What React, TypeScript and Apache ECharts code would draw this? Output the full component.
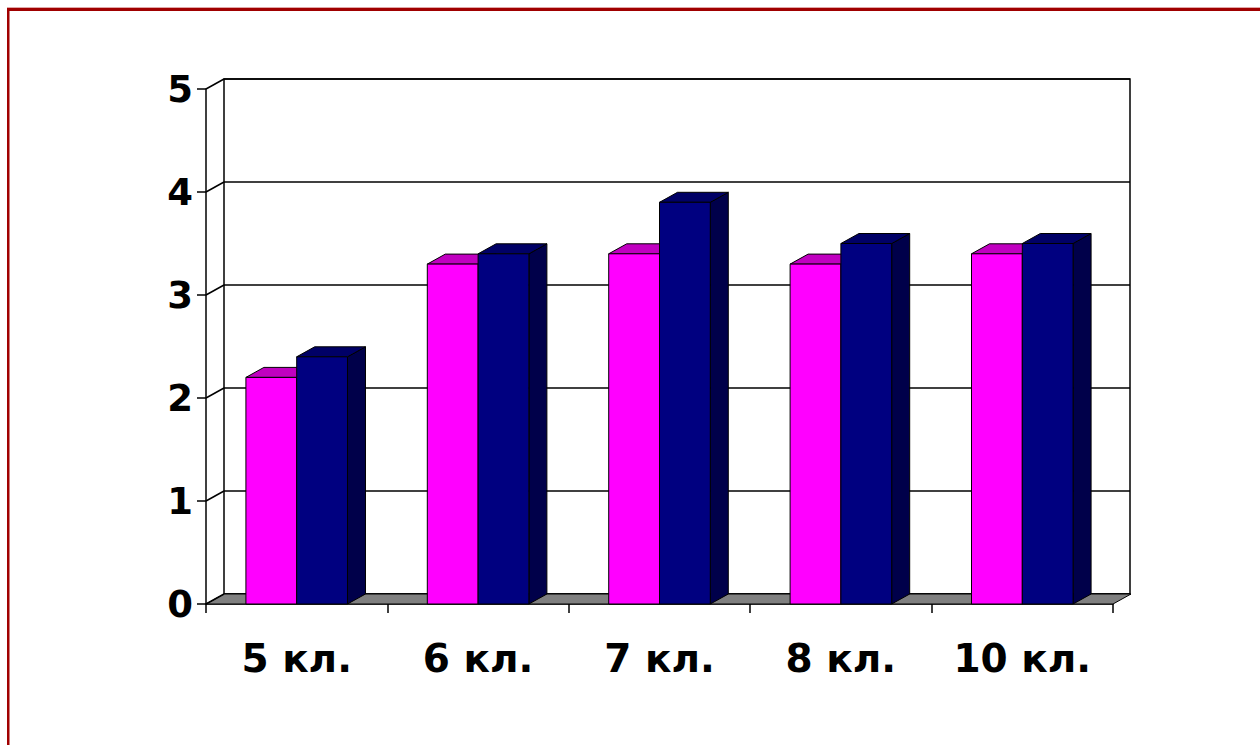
import React, { useEffect, useRef } from "react";
import * as echarts from "echarts";

const categories = ["5 кл.", "6 кл.", "7 кл.", "8 кл.", "10 кл."];
const pinkValues = [2.2, 3.3, 3.4, 3.3, 3.4];
const blueValues = [2.4, 3.4, 3.9, 3.5, 3.5];
const yTicks = [0, 1, 2, 3, 4, 5];

const DX = 18;
const DY = -10;
const FONT = "'DejaVu Sans', Verdana, sans-serif";

function barRenderer(side: "left" | "right", front: string, top: string, flank: string) {
  return (params: any, api: any) => {
    const i = api.value(0);
    const v = api.value(1);
    const c = api.coord([i, v]);
    const b = api.coord([i, 0]);
    const band = api.size([1, 0])[0];
    const bw = band * 0.28;
    const x0 = side === "left" ? c[0] - bw : c[0];
    const x1 = x0 + bw;
    const yt = c[1];
    const yb = b[1];
    const stroke = { stroke: "#000", lineWidth: 1 };
    return {
      type: "group",
      children: [
        {
          type: "polygon",
          shape: { points: [[x1, yt], [x1 + DX, yt + DY], [x1 + DX, yb + DY], [x1, yb]] },
          style: { fill: flank, ...stroke },
        },
        {
          type: "polygon",
          shape: { points: [[x0, yt], [x1, yt], [x1 + DX, yt + DY], [x0 + DX, yt + DY]] },
          style: { fill: top, ...stroke },
        },
        {
          type: "rect",
          shape: { x: x0, y: yt, width: bw, height: yb - yt },
          style: { fill: front, ...stroke },
        },
      ],
    };
  };
}

export default function App() {
  const ref = useRef<HTMLDivElement>(null);
  useEffect(() => {
    if (!ref.current) return;
    const chart = echarts.init(ref.current, undefined, { renderer: "svg" });
    const option: any = {
      animation: false,
      backgroundColor: "#ffffff",
      graphic: [
        { type: "rect", shape: { x: 7, y: 7, width: 1253, height: 1 }, style: { fill: "#e0a8a8" } },
        { type: "rect", shape: { x: 7, y: 8, width: 1253, height: 3 }, style: { fill: "#a00000" } },
        { type: "rect", shape: { x: 7, y: 8, width: 2.5, height: 737 }, style: { fill: "#a00000" } },
      ],
      grid: [
        { left: 206, right: 147, top: 89, bottom: 141 },
        {
          left: 224,
          right: 130,
          top: 79,
          bottom: 151,
          show: true,
          borderColor: "#000",
          borderWidth: 1.5,
          backgroundColor: "transparent",
        },
      ],
      xAxis: [
        {
          type: "category",
          gridIndex: 0,
          data: categories,
          axisLine: { show: true, lineStyle: { color: "#000", width: 1.5 } },
          axisTick: { show: true, interval: 0, length: 9, lineStyle: { color: "#000", width: 1.5 } },
          axisLabel: {
            interval: 0,
            hideOverlap: false,
            color: "#000",
            fontSize: 39,
            fontWeight: "bold",
            fontFamily: FONT,
            margin: 35,
          },
          splitLine: { show: false },
        },
        {
          type: "category",
          gridIndex: 1,
          data: categories,
          show: false,
        },
      ],
      yAxis: [
        {
          type: "value",
          gridIndex: 0,
          min: 0,
          max: 5,
          interval: 1,
          axisLine: { show: true, lineStyle: { color: "#000", width: 1.5 } },
          axisTick: { show: true, length: 9, lineStyle: { color: "#000", width: 1.5 } },
          axisLabel: {
            color: "#000",
            fontSize: 37,
            fontWeight: "bold",
            fontFamily: FONT,
            margin: 13,
          },
          splitLine: { show: false },
        },
        {
          type: "value",
          gridIndex: 1,
          min: 0,
          max: 5,
          interval: 1,
          axisLine: { show: false },
          axisTick: { show: false },
          axisLabel: { show: false },
          splitLine: { show: true, lineStyle: { color: "#000", width: 1.5 } },
        },
      ],
      series: [
        {
          type: "custom",
          name: "floor",
          xAxisIndex: 0,
          yAxisIndex: 0,
          z: 1,
          silent: true,
          data: [[0, 0]],
          renderItem: (params: any) => {
            const cs = params.coordSys;
            const yb = cs.y + cs.height;
            return {
              type: "polygon",
              shape: {
                points: [
                  [cs.x, yb],
                  [cs.x + cs.width, yb],
                  [cs.x + cs.width + DX, yb + DY],
                  [cs.x + DX, yb + DY],
                ],
              },
              style: { fill: "#808080", stroke: "#000", lineWidth: 1 },
            };
          },
        },
        {
          type: "custom",
          name: "connectors",
          xAxisIndex: 0,
          yAxisIndex: 0,
          z: 1,
          silent: true,
          data: yTicks.map((v) => [0, v]),
          renderItem: (params: any, api: any) => {
            const cs = params.coordSys;
            const y = api.coord([0, api.value(1)])[1];
            return {
              type: "line",
              shape: { x1: cs.x, y1: y, x2: cs.x + DX, y2: y + DY },
              style: { stroke: "#000", lineWidth: 1.5 },
            };
          },
        },
        {
          type: "custom",
          name: "pink",
          xAxisIndex: 0,
          yAxisIndex: 0,
          z: 3,
          data: pinkValues.map((v, i) => [i, v]),
          renderItem: barRenderer("left", "#ff00ff", "#c000c0", "#a000a0"),
        },
        {
          type: "custom",
          name: "blue",
          xAxisIndex: 0,
          yAxisIndex: 0,
          z: 4,
          data: blueValues.map((v, i) => [i, v]),
          renderItem: barRenderer("right", "#000080", "#000066", "#00004a"),
        },
      ],
    };
    chart.setOption(option);
    return () => chart.dispose();
  }, []);
  return (
    <div
      ref={ref}
      style={{ position: "fixed", left: 0, top: 0, width: 1260, height: 745 }}
    />
  );
}
